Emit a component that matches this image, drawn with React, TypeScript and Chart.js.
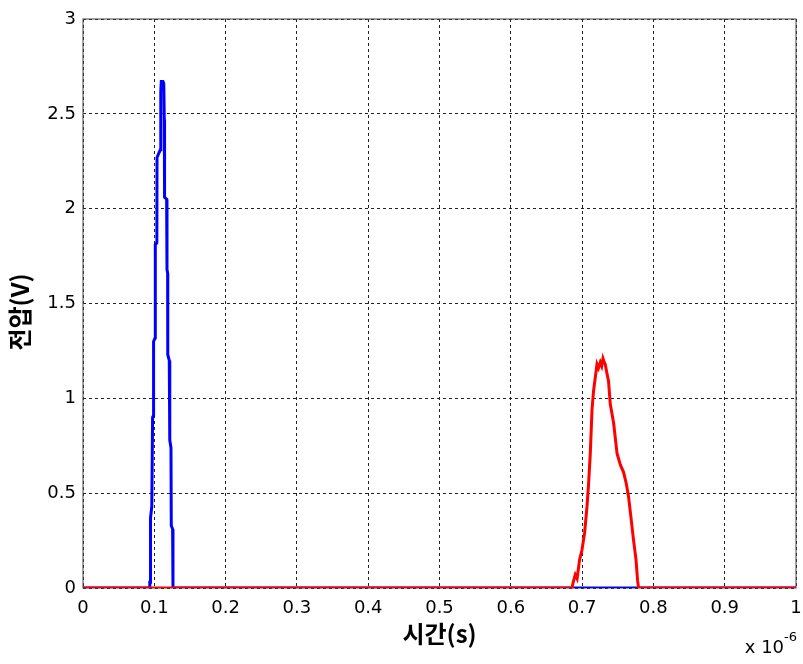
import React, { useEffect, useRef } from "react";
import { Chart, registerables } from "chart.js";

Chart.register(...registerables);

// time in units of 1e-6 s, voltage in V
const blueTime = [0, 0.0934, 0.0937, 0.0944, 0.0947, 0.0965, 0.0976, 0.0988, 0.099, 0.1012, 0.1014, 0.1036, 0.1038, 0.1084, 0.1091, 0.1098, 0.1122, 0.1133, 0.114, 0.1144, 0.1173, 0.1178, 0.1187, 0.1189, 0.121, 0.1217, 0.1234, 0.1238, 0.1257, 0.1262, 1];
const blueVolt = [0, 0, 0.03, 0.03, 0.37, 0.43, 0.9, 0.91, 1.3, 1.32, 1.81, 1.82, 2.27, 2.31, 2.62, 2.67, 2.67, 2.66, 2.47, 2.06, 2.05, 1.68, 1.66, 1.23, 1.2, 0.78, 0.74, 0.33, 0.31, 0, 0];

const redTime = [0, 0.6858, 0.6875, 0.6904, 0.693, 0.6965, 0.6998, 0.7035, 0.7069, 0.7091, 0.7115, 0.7139, 0.7161, 0.7185, 0.7209, 0.723, 0.7255, 0.7275, 0.7293, 0.731, 0.7325, 0.7349, 0.7371, 0.7395, 0.7442, 0.749, 0.7536, 0.7582, 0.762, 0.7652, 0.7686, 0.7722, 0.7756, 0.7778, 0.7792, 1];
const redVolt = [0, 0, 0.03, 0.07, 0.05, 0.15, 0.2, 0.29, 0.43, 0.55, 0.71, 0.94, 1.04, 1.11, 1.18, 1.16, 1.19, 1.17, 1.21, 1.19, 1.18, 1.13, 1.09, 0.97, 0.87, 0.71, 0.65, 0.61, 0.55, 0.48, 0.37, 0.25, 0.15, 0.04, 0, 0];

const xTicks = [0, 0.1, 0.2, 0.3, 0.4, 0.5, 0.6, 0.7, 0.8, 0.9, 1];
const yTicks = [0, 0.5, 1, 1.5, 2, 2.5, 3];

const xTitle = "시간(s)";
const yTitle = "전압(V)";
const xExpBase = "x 10";
const xExp = "-6";

const TICK_FONT = "'DejaVu Sans', sans-serif";
const TITLE_FONT = "'Noto Sans CJK KR', sans-serif";

export default function App() {
  const ref = useRef<HTMLCanvasElement | null>(null);

  useEffect(() => {
    const canvas = ref.current;
    if (!canvas) return;

    const decorPlugin = {
      id: "decor",
      beforeDatasetsDraw(chart: any) {
        const { ctx, chartArea } = chart;
        ctx.save();
        ctx.strokeStyle = "#444";
        ctx.lineWidth = 1;
        ctx.setLineDash([]);
        ctx.strokeRect(chartArea.left, chartArea.top, chartArea.right - chartArea.left, chartArea.bottom - chartArea.top);
        ctx.restore();
      },
      afterDraw(chart: any) {
        const { ctx, chartArea } = chart;
        ctx.save();
        ctx.fillStyle = "#000";
        // x title
        ctx.font = `bold 24px ${TITLE_FONT}`;
        ctx.textAlign = "center";
        ctx.textBaseline = "middle";
        ctx.fillText(xTitle, (chartArea.left + chartArea.right) / 2, 634);
        // y title
        ctx.save();
        ctx.translate(20, 312);
        ctx.rotate(-Math.PI / 2);
        ctx.fillText(yTitle, 0, 0);
        ctx.restore();
        // exponent
        ctx.font = `18px ${TICK_FONT}`;
        ctx.textAlign = "left";
        ctx.textBaseline = "alphabetic";
        const baseW = ctx.measureText(xExpBase).width;
        ctx.font = `13px ${TICK_FONT}`;
        const expW = ctx.measureText(xExp).width;
        const startX = chartArea.right + 1 - baseW - expW;
        ctx.font = `18px ${TICK_FONT}`;
        ctx.fillText(xExpBase, startX, 653);
        ctx.font = `13px ${TICK_FONT}`;
        ctx.fillText(xExp, startX + baseW, 641);
        ctx.restore();
      },
    };

    const chart = new Chart(canvas, {
      type: "line",
      data: {
        datasets: [
          {
            label: "red",
            data: redTime.map((t, i) => ({ x: t, y: redVolt[i] })),
            borderColor: "#ff0000",
            borderWidth: 3,
            pointRadius: 0,
            tension: 0,
            fill: false,
            order: 0,
          },
          {
            label: "blue",
            data: blueTime.map((t, i) => ({ x: t, y: blueVolt[i] })),
            borderColor: "#0000ff",
            borderWidth: 3,
            pointRadius: 0,
            tension: 0,
            fill: false,
            order: 1,
          },
        ],
      },
      options: {
        responsive: false,
        animation: false,
        events: [],
        layout: { padding: { left: 0, top: 19, right: 7, bottom: 0 } },
        plugins: { legend: { display: false }, tooltip: { enabled: false } },
        scales: {
          x: {
            type: "linear",
            min: 0,
            max: 1,
            afterBuildTicks(scale: any) {
              scale.ticks = xTicks.map((v) => ({ value: v }));
            },
            afterFit(scale: any) {
              scale.height = 76;
              scale.paddingLeft = 0;
              scale.paddingRight = 0;
            },
            ticks: {
              autoSkip: false,
              maxRotation: 0,
              padding: 10,
              color: "#000",
              font: { family: TICK_FONT, size: 18 },
              callback: (v: any) => String(Number(Number(v).toFixed(1))),
            },
            grid: { color: "#222", lineWidth: 1, drawTicks: false },
            border: { display: false, dash: [3, 3] },
          },
          y: {
            type: "linear",
            min: 0,
            max: 3,
            afterBuildTicks(scale: any) {
              scale.ticks = yTicks.map((v) => ({ value: v }));
            },
            afterFit(scale: any) {
              scale.width = 83;
              scale.paddingTop = 0;
              scale.paddingBottom = 0;
            },
            ticks: {
              autoSkip: false,
              padding: 7,
              color: "#000",
              font: { family: TICK_FONT, size: 18 },
              callback: (v: any) => String(Number(Number(v).toFixed(1))),
            },
            grid: { color: "#222", lineWidth: 1, drawTicks: false },
            border: { display: false, dash: [3, 3] },
          },
        },
      },
      plugins: [decorPlugin],
    } as any);

    return () => chart.destroy();
  }, []);

  return (
    <div style={{ position: "fixed", left: 0, top: 0, width: 803, height: 664, background: "#fff" }}>
      <canvas ref={ref} width={803} height={664} style={{ width: 803, height: 664, display: "block" }} />
    </div>
  );
}
